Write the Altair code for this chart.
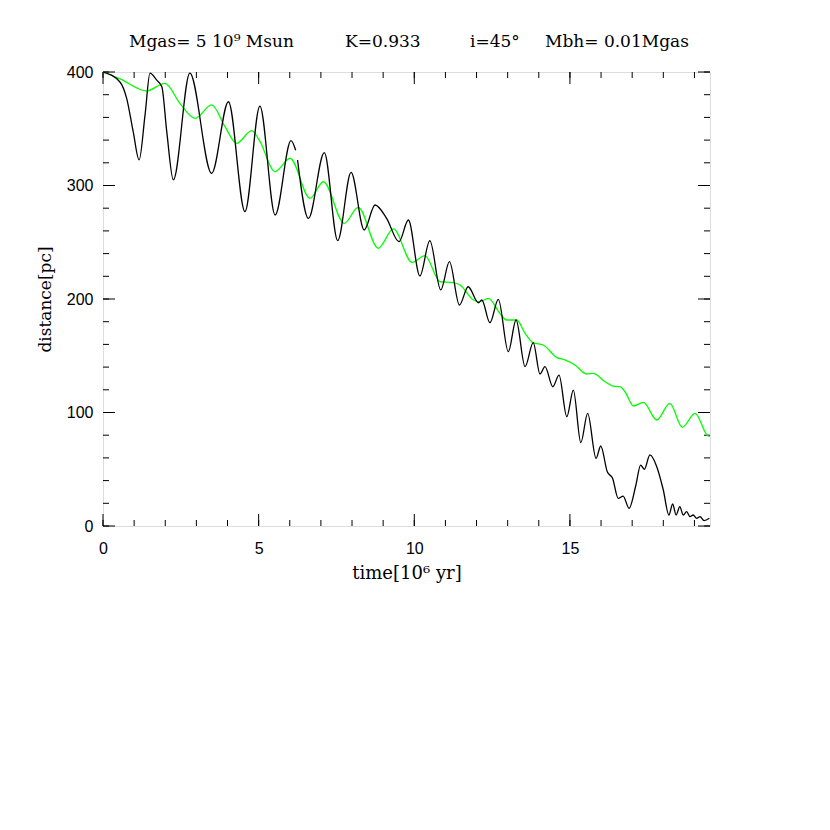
import altair as alt
import pandas as pd

# black curve, first segment (ends at the small gap near t~6.2)
black_t1 = [0, 0.55, 0.76, 0.97, 1.16, 1.35, 1.51, 1.72, 1.89, 2.05, 2.26, 2.79, 3.49, 4.03, 4.56, 5.04, 5.53, 6.04, 6.19]
black_d1 = [400, 391, 376.8, 347.4, 322.5, 362, 399, 393, 387, 347, 305, 399, 310.7, 373.8, 277, 370, 274, 339.5, 331]

# black curve, second segment
black_t2 = [6.25, 6.6, 7.11, 7.54, 7.97, 8.39, 8.74, 9.11, 9.51, 9.81, 10.18, 10.5, 10.85, 11.13, 11.45, 11.73,
            12.06, 12.17, 12.43, 12.7, 13.02, 13.27, 13.56, 13.82, 14.04, 14.2, 14.45, 14.65, 14.9, 15.11, 15.35,
            15.57, 15.84, 15.99, 16.2, 16.37, 16.55, 16.71, 16.9, 17.12, 17.27, 17.39, 17.57, 17.79, 18.0, 18.18,
            18.3, 18.41, 18.53, 18.64, 18.75, 18.86, 18.96, 19.07, 19.18, 19.31, 19.48]
black_d2 = [322.5, 271, 329, 251.4, 311.6, 260.8, 282.8, 271.1, 250.5, 269.6, 220.3, 251.4, 208, 232.9, 194.7, 210.8,
            196.7, 199.1, 179.1, 199.7, 153.6, 181.5, 140.4, 161.5, 133.9, 140.4, 122.7, 133, 96.3, 119.8, 73.4,
            99.3, 59.6, 70.5, 47.8, 42, 24.4, 26.4, 15.6, 36.1, 53.7, 50, 62.6, 52.2, 31.7, 9.7,
            19.4, 9.7, 17, 9.7, 12.6, 8.2, 9.7, 6.8, 8.2, 4.7, 6.8]

# green curve
green_t = [0, 0.55, 1.4, 1.99, 2.47, 2.96, 3.49, 3.92, 4.29, 4.78, 5.02, 5.53, 6.01, 6.65, 7.08, 7.75, 8.2, 8.84,
           9.33, 9.93, 10.34, 10.83, 11.25, 11.47, 11.9, 12.11, 12.38, 12.75, 12.97, 13.29, 13.56, 13.82, 14.14,
           14.57, 14.84, 15.16, 15.54, 15.75, 16.13, 16.39, 16.61, 16.77, 17.04, 17.36, 17.79, 18.21, 18.61,
           19.02, 19.44, 19.5]
green_d = [400, 394, 383.3, 390, 372.4, 359.2, 371, 351.8, 337.2, 348.3, 340, 312.2, 324, 288.7, 303.3, 266.7, 280.8,
           244.7, 261.7, 232.2, 238.2, 215.2, 214.4, 212.3, 199.1, 197.6, 200.6, 187.4, 181.5, 181.5, 169.8, 161.5,
           159.5, 148.6, 146.3, 141.9, 133.9, 134.5, 127.1, 123.3, 122.7, 118.3, 105.7, 109, 93.4, 108.1, 87,
           99.3, 79.3, 79]

title_parts = ["Mgas= 5 10\u2079 Msun", "K=0.933", "i=45\u00b0", "Mbh= 0.01Mgas"]
title_x = [26, 242, 367, 442]

x_major = [0, 5, 10, 15]
x_minor = list(range(0, 20))
y_major = [0, 100, 200, 300, 400]
y_minor = list(range(0, 401, 20))

W, H = 607, 454
MAJ, MIN = 12, 6

rows = []
for t, d in zip(black_t1, black_d1):
    rows.append({"t": t, "d": d, "seg": "b1"})
for t, d in zip(black_t2, black_d2):
    rows.append({"t": t, "d": d, "seg": "b2"})
df_black = pd.DataFrame(rows)
df_green = pd.DataFrame({"t": green_t, "d": green_d, "seg": "g"})

xs = alt.Scale(domain=[0, 19.5], nice=False, zero=False)
ys = alt.Scale(domain=[0, 400], nice=False)

xaxis = alt.Axis(values=x_major, ticks=False, domain=False, grid=False, labelFont="Liberation Sans",
                 labelFontSize=16, labelColor="black", labelPadding=14, labelFlush=False,
                 title="time[10\u2076 yr]",
                 titleFont="DejaVu Serif", titleFontSize=18, titleFontWeight="normal", titleColor="black",
                 titlePadding=8)
yaxis = alt.Axis(values=y_major, ticks=False, domain=False, grid=False, labelFont="Liberation Sans",
                 labelFontSize=16, labelColor="black", labelPadding=10, labelFlush=False,
                 title="distance[pc]",
                 titleFont="DejaVu Serif", titleFontSize=17, titleFontWeight="normal", titleColor="black",
                 titlePadding=12)

black = alt.Chart(df_black).mark_line(color="black", strokeWidth=1.3, interpolate="monotone").encode(
    x=alt.X("t:Q", scale=xs, axis=xaxis),
    y=alt.Y("d:Q", scale=ys, axis=yaxis),
    detail="seg:N",
    order="t:Q",
)
green = alt.Chart(df_green).mark_line(color="#00ff00", strokeWidth=1.3, interpolate="monotone").encode(
    x=alt.X("t:Q", scale=xs),
    y=alt.Y("d:Q", scale=ys),
    order="t:Q",
)

def xticks(vals, length):
    src = pd.DataFrame({"t": vals})
    bottom = alt.Chart(src).mark_rule(color="black", strokeWidth=1).encode(
        x=alt.X("t:Q", scale=xs), y=alt.value(H), y2=alt.value(H - length))
    top = alt.Chart(src).mark_rule(color="black", strokeWidth=1).encode(
        x=alt.X("t:Q", scale=xs), y=alt.value(0), y2=alt.value(length))
    return [bottom, top]

def yticks(vals, length):
    src = pd.DataFrame({"d": vals})
    left = alt.Chart(src).mark_rule(color="black", strokeWidth=1).encode(
        y=alt.Y("d:Q", scale=ys), x=alt.value(0), x2=alt.value(length))
    right = alt.Chart(src).mark_rule(color="black", strokeWidth=1).encode(
        y=alt.Y("d:Q", scale=ys), x=alt.value(W), x2=alt.value(W - length))
    return [left, right]

ticks = xticks(x_minor, MIN) + xticks(x_major, MAJ) + yticks(y_minor, MIN) + yticks(y_major, MAJ)

title_df = pd.DataFrame({"txt": title_parts, "px": title_x})
title = alt.Chart(title_df).mark_text(font="DejaVu Serif", fontSize=17, align="left", baseline="middle",
                                      color="black").encode(
    text="txt:N", x=alt.X("px:Q", scale=None), y=alt.value(-30))

chart = alt.layer(*ticks, green, black, title).properties(
    width=W, height=H,
    autosize=alt.AutoSizeParams(type="none"),
    padding={"left": 95, "top": 64, "right": 100, "bottom": 250},
).configure_view(stroke="black", strokeWidth=1).configure(background="white")

chart.save("out.html", embed_options={"renderer": "svg", "actions": False})
